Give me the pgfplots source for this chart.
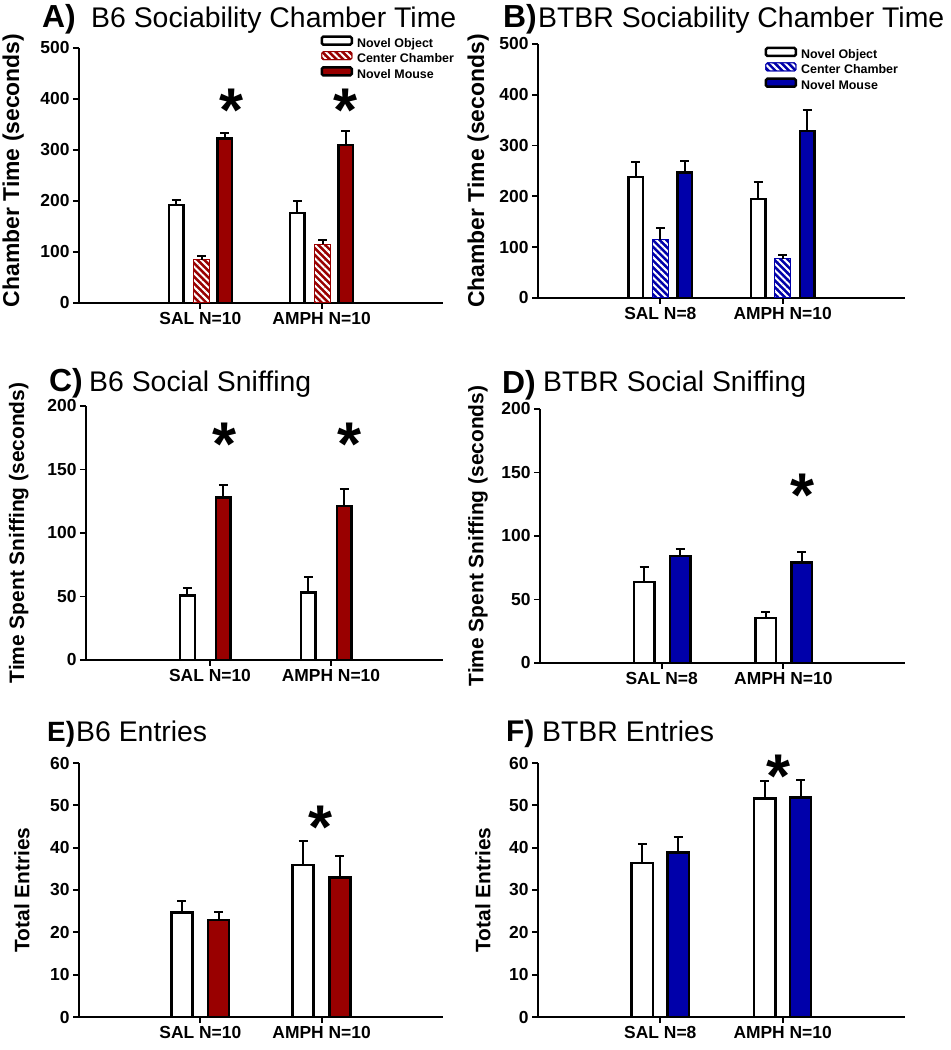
\documentclass[border=0pt]{standalone}
\usepackage{fontspec}
\setmainfont{Liberation Sans}
\usepackage{pgfplots}
\pgfplotsset{compat=1.18}
\usetikzlibrary{patterns.meta}
\definecolor{dred}{RGB}{153,0,0}
\definecolor{dblue}{RGB}{0,0,170}

\pgfplotsset{
 panel/.style={scale only axis, clip=false, axis lines=left,
   axis line style={-, line width=2.2bp, black},
   xmin=0, xmax=3, xtick={1,2}, ymin=0, enlargelimits=false,
   tick align=outside, major tick length=6bp, tick style={line width=1.8bp, black},
   tick label style={font=\fontsize{17.5}{17.5}\selectfont\bfseries},
   /pgf/number format/assume math mode=true,
   ylabel style={font=\fontsize{21}{21}\selectfont\bfseries, anchor=center},
   legend cell align=left,
 },
 b/.style={ybar, bar shift=0pt, bar width=#1},
 objbar/.style={fill=white, draw=black, line width=2.5bp},
 fullbar/.style={fill=#1, draw=black, line width=2.5bp},
 hatchbar/.style={fill=#1, draw=#1, line width=1bp,
   postaction={pattern={Lines[angle=-45,distance=4.8bp,line width=2bp]}, pattern color=white}},
 leg/.style={legend image code/.code={\draw[##1, rounded corners=1.5bp] (0bp,0.5bp) rectangle (30bp,8.5bp);}},
 eb/.style={error bars/.cd, y dir=plus, y explicit,
   error bar style={line width=2bp, black, solid},
   error mark options={rotate=90, line width=2bp, black, mark size=4.5bp}},
 legA/.style={legend style={at={(axis description cs:#1)}, anchor=north west, draw=none, fill=white,
   font=\fontsize{12.5}{12.5}\selectfont\bfseries, row sep=0bp, column sep=3bp, inner sep=0bp,
   nodes={inner sep=1bp, text height=7.5bp, text depth=2.5bp}}},
}
\tikzset{
 star/.style={font=\fontsize{62}{62}\selectfont\bfseries, anchor=base, yshift=-35bp, inner sep=0pt},
 lett/.style={anchor=base west, inner sep=0pt, font=\fontsize{32}{32}\selectfont\bfseries},
 ttl/.style={anchor=base west, inner sep=0pt, font=\fontsize{28.5}{28.5}\selectfont},
}

\begin{document}
\begin{tikzpicture}
\useasboundingbox (0,0) rectangle (951bp,1050bp);

% titles
\node[lett] at (42bp,1022bp) {A)};
\node[ttl] at (91bp,1022bp) {B6 Sociability Chamber Time};
\node[lett] at (503bp,1022bp) {B)};
\node[ttl] at (538bp,1022bp) {BTBR Sociability Chamber Time};
\node[lett] at (49bp,658bp) {C)};
\node[ttl] at (89bp,658bp) {B6 Social Sniffing};
\node[lett] at (502bp,656bp) {D)};
\node[ttl] at (543bp,658bp) {BTBR Social Sniffing};
\node[lett, font=\fontsize{28}{28}\selectfont\bfseries] at (47bp,308bp) {E)};
\node[ttl] at (76bp,308bp) {B6 Entries};
\node[lett, font=\fontsize{30}{30}\selectfont\bfseries] at (506bp,308bp) {F)};
\node[ttl] at (542bp,308bp) {BTBR Entries};

% A
\begin{axis}[panel, at={(79bp,747bp)}, anchor=south west, width=364bp, height=255bp,
  ymax=500, ytick={0,100,...,500}, xticklabels={{SAL N=10},{AMPH N=10}},
  ylabel={Chamber Time (seconds)}, ylabel style={font=\fontsize{23}{23}\selectfont\bfseries, at={(axis description cs:-0.181,0.52)}},
  legA={0.663,1.05}]
\addplot[b=0.12, objbar, leg, eb] coordinates {(0.8,192) +- (0,10) (1.8,176) +- (0,24)};
\addlegendentry{Novel Object}
\addplot[b=0.13, hatchbar=dred, leg, eb] coordinates {(1.01,85) +- (0,7) (2.01,115) +- (0,8)};
\addlegendentry{Center Chamber}
\addplot[b=0.12, fullbar=dred, leg, eb] coordinates {(1.2,323) +- (0,11) (2.2,310) +- (0,27)};
\addlegendentry{Novel Mouse}
\node[star] at (axis cs:1.26,404) {*};
\node[star] at (axis cs:2.2,404) {*};
\end{axis}

% B
\begin{axis}[panel, at={(538bp,752bp)}, anchor=south west, width=367bp, height=254bp,
  ymax=500, ytick={0,100,...,500}, xticklabels={{SAL N=8},{AMPH N=10}},
  ylabel={Chamber Time (seconds)}, ylabel style={font=\fontsize{23}{23}\selectfont\bfseries, at={(axis description cs:-0.163,0.5)}},
  legA={0.617,0.99}]
\addplot[b=0.12, objbar, leg, eb] coordinates {(0.8,238) +- (0,29) (1.8,195) +- (0,34)};
\addlegendentry{Novel Object}
\addplot[b=0.13, hatchbar=dblue, leg, eb] coordinates {(1.0,115) +- (0,23) (2.0,77) +- (0,8)};
\addlegendentry{Center Chamber}
\addplot[b=0.12, fullbar=dblue, leg, eb] coordinates {(1.2,247) +- (0,23) (2.2,329) +- (0,41)};
\addlegendentry{Novel Mouse}
\end{axis}

% C
\begin{axis}[panel, at={(86bp,390bp)}, anchor=south west, width=357bp, height=254bp,
  xmin=-0.025, xmax=2.926,
  ymax=200, ytick={0,50,...,200}, xticklabels={{SAL N=10},{AMPH N=10}},
  ylabel={Time Spent Sniffing (seconds)}, ylabel style={at={(axis description cs:-0.188,0.5)}}]
\addplot[b=0.12, objbar, eb] coordinates {(0.814,50.6) +- (0,6.3) (1.814,53.2) +- (0,11.8)};
\addplot[b=0.12, fullbar=dred, eb] coordinates {(1.11,127.9) +- (0,9.7) (2.11,121.4) +- (0,13.6)};
\node[star] at (axis cs:1.116,181) {*};
\node[star] at (axis cs:2.157,181) {*};
\end{axis}

% D
\begin{axis}[panel, at={(540bp,387bp)}, anchor=south west, width=365bp, height=254bp,
  ymax=200, ytick={0,50,...,200}, xticklabels={{SAL N=8},{AMPH N=10}},
  ylabel={Time Spent Sniffing (seconds)}, ylabel style={at={(axis description cs:-0.17,0.5)}}]
\addplot[b=0.168, objbar, eb] coordinates {(0.855,63.9) +- (0,11.8) (1.855,35.5) +- (0,4.7)};
\addplot[b=0.168, fullbar=dblue, eb] coordinates {(1.152,84.1) +- (0,5.5) (2.152,79.1) +- (0,8.4)};
\node[star] at (axis cs:2.16,142.7) {*};
\end{axis}

% E
\begin{axis}[panel, at={(79bp,33bp)}, anchor=south west, width=364bp, height=254bp,
  ymax=60, ytick={0,10,...,60}, xticklabels={{SAL N=10},{AMPH N=10}},
  ylabel={Total Entries}, ylabel style={at={(axis description cs:-0.157,0.5)}}]
\addplot[b=0.173, objbar, eb] coordinates {(0.847,24.7) +- (0,2.8) (1.847,35.9) +- (0,5.7)};
\addplot[b=0.173, fullbar=dred, eb] coordinates {(1.15,22.9) +- (0,2.0) (2.15,32.9) +- (0,5.1)};
\node[star] at (axis cs:1.99,48.1) {*};
\end{axis}

% F
\begin{axis}[panel, at={(538bp,33bp)}, anchor=south west, width=367bp, height=254bp,
  ymax=60, ytick={0,10,...,60}, xticklabels={{SAL N=8},{AMPH N=10}},
  ylabel={Total Entries}, ylabel style={at={(axis description cs:-0.15,0.5)}}]
\addplot[b=0.175, objbar, eb] coordinates {(0.853,36.4) +- (0,4.4) (1.853,51.6) +- (0,4.1)};
\addplot[b=0.175, fullbar=dblue, eb] coordinates {(1.146,38.9) +- (0,3.7) (2.146,51.8) +- (0,4.2)};
\node[star] at (axis cs:1.97,60.2) {*};
\end{axis}
\end{tikzpicture}
\end{document}
